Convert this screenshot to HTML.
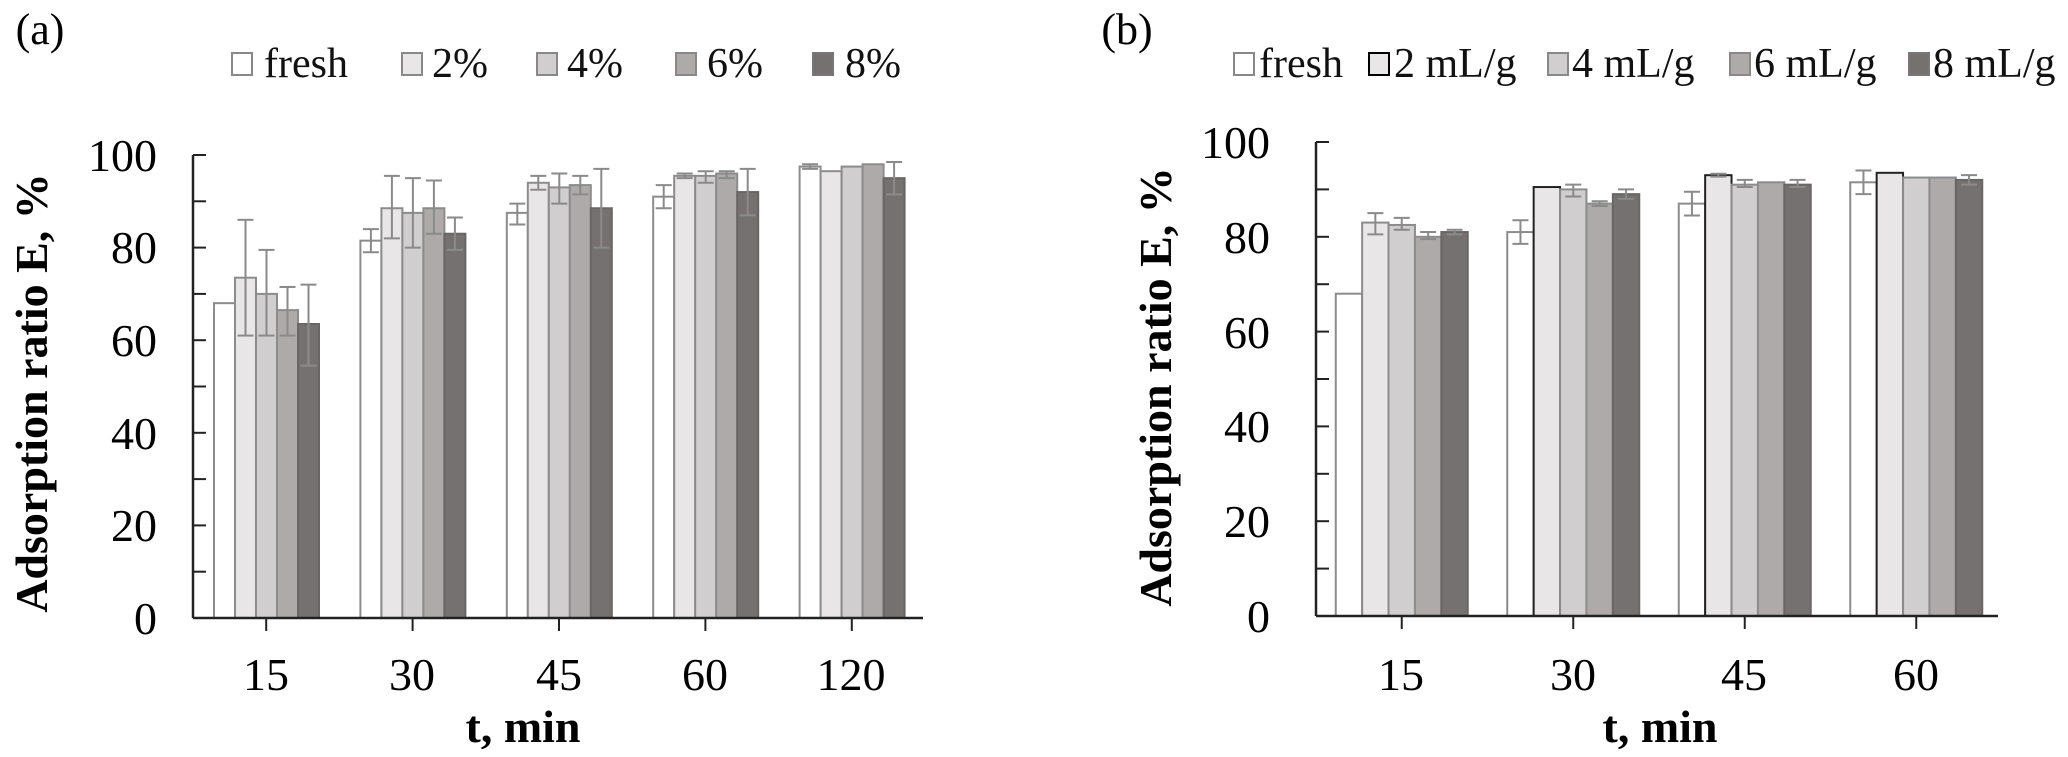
<!DOCTYPE html>
<html><head><meta charset="utf-8"><style>
html,body{margin:0;padding:0;background:#fff;}
svg{display:block;font-family:"Liberation Serif",serif;}
</style></head><body>
<svg id="s" width="2068" height="757" viewBox="0 0 2068 757" xmlns="http://www.w3.org/2000/svg">
<g font-size="42" fill="#000">
<text x="40" y="44" text-anchor="middle" font-size="44">(a)</text>
<text x="1127" y="44" text-anchor="middle" font-size="44">(b)</text>
</g>
<g font-size="42" fill="#111">
<rect x="232" y="53" width="20" height="22" fill="#fff" stroke="#888" stroke-width="2"/><text x="264" y="77">fresh</text>
<rect x="402" y="53" width="20" height="22" fill="#e8e6e6" stroke="#888" stroke-width="2"/><text x="432" y="77">2%</text>
<rect x="537" y="53" width="20" height="22" fill="#d0cece" stroke="#888" stroke-width="2"/><text x="567" y="77">4%</text>
<rect x="676" y="53" width="20" height="22" fill="#aeaaaa" stroke="#888" stroke-width="2"/><text x="707" y="77">6%</text>
<rect x="813" y="53" width="20" height="22" fill="#767171" stroke="#777" stroke-width="2"/><text x="845" y="77">8%</text>
</g>
<g font-size="42" fill="#111">
<rect x="1234" y="53" width="20" height="22" fill="#fff" stroke="#888" stroke-width="2"/><text x="1259" y="77">fresh</text>
<rect x="1369" y="53" width="20" height="22" fill="#e8e6e6" stroke="#000" stroke-width="2"/><text x="1394" y="77">2 mL/g</text>
<rect x="1548" y="53" width="20" height="22" fill="#d0cece" stroke="#888" stroke-width="2"/><text x="1572" y="77">4 mL/g</text>
<rect x="1730" y="53" width="20" height="22" fill="#aeaaaa" stroke="#888" stroke-width="2"/><text x="1754" y="77">6 mL/g</text>
<rect x="1909" y="53" width="20" height="22" fill="#767171" stroke="#777" stroke-width="2"/><text x="1933" y="77">8 mL/g</text>
</g>
<g font-size="46" text-anchor="end">
<text x="157" y="171">100</text><text x="157" y="263">80</text><text x="157" y="356">60</text>
<text x="157" y="449">40</text><text x="157" y="541">20</text><text x="157" y="634">0</text>
</g>
<g font-size="46" text-anchor="end">
<text x="1270" y="158">100</text><text x="1270" y="253">80</text><text x="1270" y="348">60</text>
<text x="1270" y="442">40</text><text x="1270" y="537">20</text><text x="1270" y="632">0</text>
</g>
<g font-size="46" text-anchor="middle">
<text x="266" y="690">15</text><text x="412" y="690">30</text><text x="559" y="690">45</text><text x="705" y="690">60</text><text x="851" y="690">120</text>
<text x="1401" y="690">15</text><text x="1573" y="690">30</text><text x="1744" y="690">45</text><text x="1916" y="690">60</text>
</g>
<g font-size="46" font-weight="bold" text-anchor="middle">
<text x="523" y="742">t, min</text>
<text x="1660" y="742">t, min</text>
<text transform="translate(47,393) rotate(-90)">Adsorption ratio E, %</text>
<text transform="translate(1171,387) rotate(-90)">Adsorption ratio E, %</text>
</g>
<g id="bars"></g>
</svg>
<script>
var NS="http://www.w3.org/2000/svg",g=document.getElementById("bars");
function el(t,a){var e=document.createElementNS(NS,t);for(var k in a)e.setAttribute(k,a[k]);g.appendChild(e);return e;}
var fills=["#ffffff","#e8e6e6","#d0cece","#aeaaaa","#767171"];
function chart(c){
  var Y=function(v){return c.y0-(c.y0-c.y100)*v/100;};
  c.data.forEach(function(grp,gi){
    var gx=c.x0+gi*c.cw+c.off;
    grp.forEach(function(b,bi){
      var x=gx+bi*c.bw,v=b[0];
      var st=(c.dark&&bi==1&&gi>0)?"#222":(bi==4?"#6a6666":"#8c8c8c");
      el("rect",{x:x,y:Y(v),width:c.bw,height:c.y0-Y(v),fill:fills[bi],stroke:st,"stroke-width":2});
      if(b.length>1){
        var cx=x+c.bw/2,lo=Y(b[1]),hi=Y(b[2]);
        el("line",{x1:cx,x2:cx,y1:lo,y2:hi,stroke:"#8a8a8a","stroke-width":2});
        el("line",{x1:cx-8,x2:cx+8,y1:lo,y2:lo,stroke:"#8a8a8a","stroke-width":2});
        el("line",{x1:cx-8,x2:cx+8,y1:hi,y2:hi,stroke:"#8a8a8a","stroke-width":2});
      }
    });
    el("line",{x1:c.x0+gi*c.cw+c.cw/2,x2:c.x0+gi*c.cw+c.cw/2,y1:c.y0,y2:c.y0+13,stroke:"#222","stroke-width":2});
  });
  el("line",{x1:c.x0,x2:c.x0,y1:c.y100,y2:c.y0,stroke:"#222","stroke-width":2.5});
  el("line",{x1:c.x0,x2:c.x1,y1:c.y0,y2:c.y0,stroke:"#222","stroke-width":2.5});
  for(var v=0;v<=100;v+=10)el("line",{x1:c.x0,x2:c.x0+13,y1:Y(v),y2:Y(v),stroke:"#222","stroke-width":2});
}
chart({x0:193,x1:923,y0:618,y100:155,cw:146.4,bw:21,off:21,dark:false,data:[
 [[68],[73.5,61,86],[70,61,79.5],[66.5,61,71.5],[63.5,54.5,72]],
 [[81.5,79,84],[88.5,82,95.5],[87.5,80,95],[88.5,83,94.5],[83,79.5,86.5]],
 [[87.5,85,89.5],[94,92.5,95.5],[93,89.5,96],[93.5,91.5,95.5],[88.5,80,97]],
 [[91,88.5,93.5],[95.5,95,96],[95.5,94,96.5],[96,95,96.5],[92,87,97]],
 [[97.5,97,98],[96.5],[97.5],[98],[95,91.5,98.5]]]});
chart({x0:1316,x1:1998,y0:616,y100:142,cw:171.5,bw:26.4,off:19.75,dark:true,data:[
 [[68],[83,80.5,85],[82.5,81.5,84],[80,79.5,81],[81,80.5,81.5]],
 [[81,78.5,83.5],[90.5],[90,88.5,91],[87,86.5,87.5],[89,88,90]],
 [[87,84.5,89.5],[93,92.7,93.3],[91,90.5,92],[91.5],[91,90.5,92]],
 [[91.5,89,94],[93.5],[92.5],[92.5],[92,91,93]]]});
</script>
</body></html>
